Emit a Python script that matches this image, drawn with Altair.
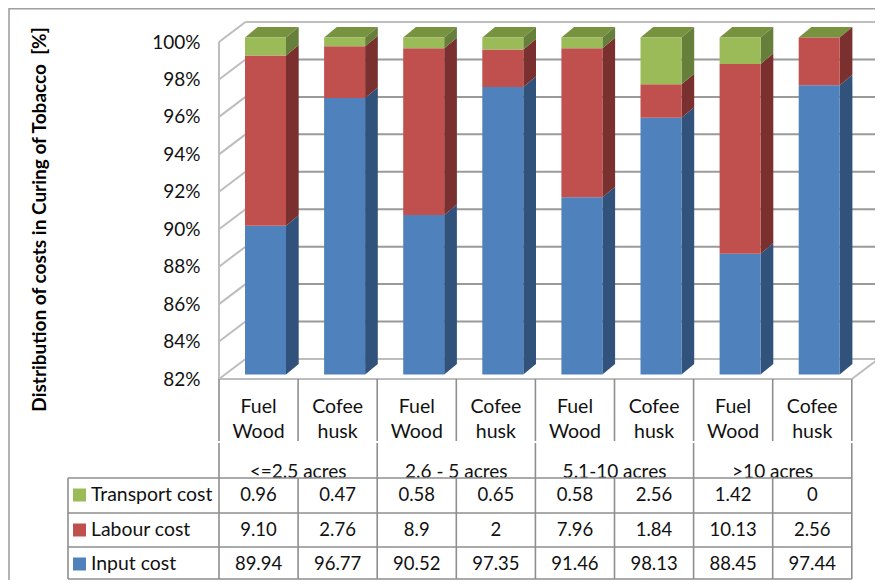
import altair as alt
import pandas as pd

# ---------- data ----------
groups = ["<=2.5 acres", "2.6 - 5 acres", "5.1-10 acres", ">10 acres"]
fuels = [["Fuel", "Wood"], ["Cofee", "husk"]] * 4
series = ["Input cost", "Labour cost", "Transport cost"]
input_cost = [89.94, 96.77, 90.52, 97.35, 91.46, 98.13, 88.45, 97.44]
labour_cost = [9.10, 2.76, 8.9, 2, 7.96, 1.84, 10.13, 2.56]
transport_cost = [0.96, 0.47, 0.58, 0.65, 0.58, 2.56, 1.42, 0]
input_labels = ["89.94", "96.77", "90.52", "97.35", "91.46", "98.13", "88.45", "97.44"]
labour_labels = ["9.10", "2.76", "8.9", "2", "7.96", "1.84", "10.13", "2.56"]
transport_labels = ["0.96", "0.47", "0.58", "0.65", "0.58", "2.56", "1.42", "0"]
y_ticks = [82, 84, 86, 88, 90, 92, 94, 96, 98, 100]
y_title = "Distribution of costs in Curing of Tobacco\u00a0\u00a0[%]"

# ---------- layout ----------
FONT = "Lato"
W, H = 867, 572
STEP, UNIT = 79.1, 18.72          # px per category, px per percent
X0, Y82 = 211, 371                # chart px of category 0 and of 82 %
x_dom = [-X0 / STEP, (W - X0) / STEP]
y_dom = [82 - (H - Y82) / UNIT, 82 + Y82 / UNIT]
xs = alt.Scale(domain=x_dom, range=[0, W], nice=False, zero=False)
ys = alt.Scale(domain=y_dom, range=[H, 0], nice=False, zero=False)


def ux(px):   # absolute page px -> x data units
    return (px - 8 - X0) / STEP


def uy(px):   # absolute page px -> y data units
    return 82 + (Y82 - (px - 8)) / UNIT


WALL_X, WALL_Y = 26.5 / STEP, 20 / UNIT
BAR_X, BAR_Y = 26 / STEP, 4.6 / UNIT
BAR_W = 41 / STEP
SIDE_X, SIDE_Y = 12.7 / STEP, 10.5 / UNIT

front_scale = alt.Scale(domain=series, range=["#4F81BD", "#C0504D", "#9BBB59"])
side_scale = alt.Scale(domain=series, range=["#31527B", "#7A302E", "#667F3A"])
TOP_COLOR = "#77933F"

EX = lambda f="x": alt.X(f"{f}:Q", scale=xs, axis=None)
EY = lambda f="y": alt.Y(f"{f}:Q", scale=ys, axis=None)
X2 = alt.X2("x2:Q")
Y2 = alt.Y2("y2:Q")

# ---------- geometry derived from the values (100 % stacked) ----------
fronts, sides, tops = [], [], []
for i in range(8):
    vals = [input_cost[i], labour_cost[i], transport_cost[i]]
    total = sum(vals)
    left = i + BAR_X
    right = left + BAR_W
    cum = 0
    for name, v in zip(series, vals):
        lo = cum / total * 100
        cum += v
        hi = cum / total * 100
        if v == 0:
            continue
        lo_c, hi_c = max(lo, 82), hi
        fronts.append(dict(x=left, x2=right, y=lo_c + BAR_Y, y2=hi_c + BAR_Y, series=name))
        seg = f"{i}-{name}"
        sides.append(dict(x=right, y=lo_c + BAR_Y, y2=hi_c + BAR_Y, series=name, seg=seg))
        sides.append(dict(x=right + SIDE_X, y=lo_c + BAR_Y + SIDE_Y, y2=hi_c + BAR_Y + SIDE_Y, series=name, seg=seg))
    tops.append(dict(y=100 + BAR_Y, x=left, x2=right, bar=i))
    tops.append(dict(y=100 + BAR_Y + SIDE_Y, x=left + SIDE_X, x2=right + SIDE_X, bar=i))

front_layer = alt.Chart(pd.DataFrame(fronts)).mark_rect().encode(
    x=EX(), x2=X2, y=EY(), y2=Y2, color=alt.Color("series:N", scale=front_scale, legend=None))
side_layer = alt.Chart(pd.DataFrame(sides)).mark_area(orient="vertical").encode(
    x=EX(), y=EY(), y2=Y2, fill=alt.Fill("series:N", scale=side_scale, legend=None), detail="seg:N")
top_layer = alt.Chart(pd.DataFrame(tops)).mark_area(orient="horizontal", color=TOP_COLOR).encode(
    y=EY(), x=EX(), x2=X2, detail="bar:N")


def rules(segs, color, width):
    df = pd.DataFrame(segs, columns=["x", "x2", "y", "y2"])
    return alt.Chart(df).mark_rule(color=color, strokeWidth=width).encode(x=EX(), x2=X2, y=EY(), y2=Y2)


# y axis lives on the wall grid layer
grid_df = pd.DataFrame([dict(x=WALL_X, x2=8 + WALL_X, y=v + WALL_Y, y2=v + WALL_Y) for v in y_ticks[1:-1]])
grid_layer = alt.Chart(grid_df).mark_rule(color="#9A9A9A", strokeWidth=2).encode(
    x=EX(), x2=X2,
    y=alt.Y("y:Q", scale=ys, axis=alt.Axis(
        values=y_ticks, labelExpr="datum.value + '%'", grid=False, ticks=False, domain=False,
        offset=-192, labelPadding=0, labelFont=FONT, labelFontSize=19, labelColor="#111111",
        title=y_title, titleFont=FONT, titleFontSize=19, titleFontWeight="bold", titleColor="#000000",
        titleAngle=270, titleX=-161, titleY=211, titleAlign="center", titleBaseline="middle")),
    y2=Y2)

wall_light = rules(
    [(0, WALL_X, v, v + WALL_Y) for v in y_ticks]
    + [(WALL_X, 8 + WALL_X, 100 + WALL_Y, 100 + WALL_Y),
       (WALL_X, 8 + WALL_X, 82 + WALL_Y, 82 + WALL_Y),
       (0, 8, 82, 82), (8, 8 + WALL_X, 82, 82 + WALL_Y), (0, 0, 82, 100)],
    "#BDBDBD", 2)

# ---------- table lines ----------
TOP_T, R1, R2, BOT_T = uy(478), uy(513), uy(547), uy(579)
CAT_BOT, GRP_TOP = uy(441), uy(443)
LEFT_T = ux(68)
table_bg = alt.Chart(pd.DataFrame([dict(x=LEFT_T, x2=8, y=BOT_T, y2=TOP_T)])).mark_rect(color="white").encode(
    x=EX(), x2=X2, y=EY(), y2=Y2)
table_lines = rules(
    [(i, i, 82, CAT_BOT) for i in range(9)]
    + [(i, i, GRP_TOP, TOP_T) for i in [0, 2, 4, 6, 8]]
    + [(i, i, TOP_T, BOT_T) for i in range(9)]
    + [(LEFT_T, LEFT_T, TOP_T, BOT_T)]
    + [(LEFT_T, 8, r, r) for r in [TOP_T, R1, R2, BOT_T]],
    "#8E8E8E", 1.6)
frame = rules([(ux(9), ux(9), uy(8), uy(596)), (ux(9), ux(883), uy(8.7), uy(8.7))], "#A0A0A0", 1.6)


def texts(rows, size, align="center"):
    df = pd.DataFrame(rows, columns=["x", "y", "t"])
    return alt.Chart(df).mark_text(font=FONT, fontSize=size, align=align, baseline="middle", color="#111111").encode(
        x=EX(), y=EY(), text="t:N")


cat_text = texts([(i + .5, uy(407), f[0]) for i, f in enumerate(fuels)]
                 + [(i + .5, uy(432), f[1]) for i, f in enumerate(fuels)], 19.5)
grp_text = texts([(2 * i + 1, uy(471.5), g) for i, g in enumerate(groups)], 19)
row_ys = {"Transport cost": uy(495), "Labour cost": uy(530), "Input cost": uy(564)}
row_labels = {"Transport cost": transport_labels, "Labour cost": labour_labels, "Input cost": input_labels}
val_text = texts([(i + .5, row_ys[s], row_labels[s][i]) for s in series for i in range(8)], 18.5)
leg_text = texts([(ux(91), row_ys[s], s) for s in series], 19.4, "left")
swatch_df = pd.DataFrame([dict(x=ux(73), x2=ux(86), y=row_ys[s] - 6.5 / UNIT, y2=row_ys[s] + 6.5 / UNIT, series=s) for s in series])
swatches = alt.Chart(swatch_df).mark_rect().encode(
    x=EX(), x2=X2, y=EY(), y2=Y2, color=alt.Color("series:N", scale=front_scale, legend=None))

chart = alt.layer(
    frame, grid_layer, wall_light, top_layer, side_layer, front_layer,
    cat_text, grp_text, table_bg, table_lines, val_text, leg_text, swatches,
).resolve_axis(y="independent").properties(
    width=W, height=H, padding=0, autosize=alt.AutoSizeParams(type="none"), background="white"
).configure_view(stroke=None)

chart.save("out.html", embed_options={"renderer": "svg", "actions": False})
